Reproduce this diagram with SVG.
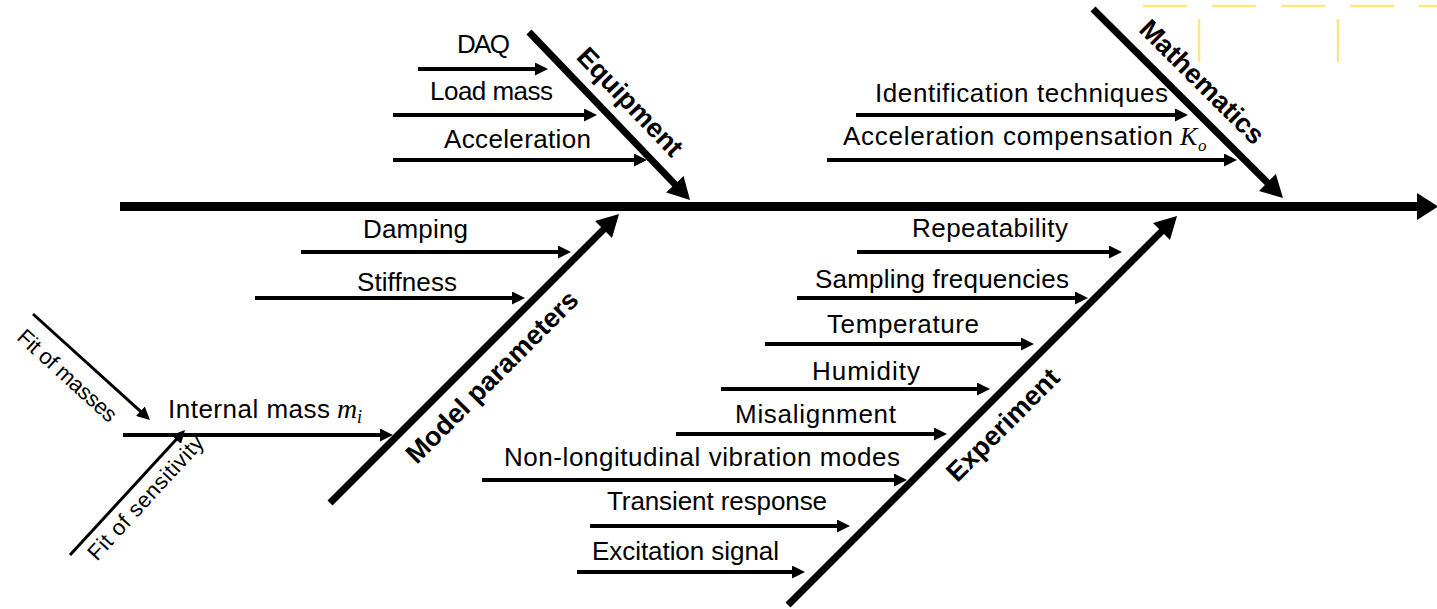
<svg xmlns="http://www.w3.org/2000/svg" width="1437" height="609" viewBox="0 0 1437 609">
<style>
.t{font-family:"Liberation Sans",Arial,sans-serif;font-size:26px;fill:#000}
.b{font-family:"Liberation Sans",Arial,sans-serif;font-size:27px;font-weight:bold;fill:#000}
.f{font-family:"Liberation Sans",Arial,sans-serif;font-size:22px;fill:#000}
.m{font-family:"Liberation Serif","Times New Roman",serif;font-style:italic;fill:#000}
.a{stroke:#000;stroke-width:4;fill:none;marker-end:url(#sa)}
.a3{stroke:#000;stroke-width:3;fill:none;marker-end:url(#sa)}
.br{stroke:#000;stroke-width:7;fill:none;marker-end:url(#ba)}
.y{stroke:#FFE680;stroke-width:2.5;fill:none}
</style>
<defs>
<marker id="sa" markerUnits="userSpaceOnUse" markerWidth="14" markerHeight="13" refX="1" refY="6.5" orient="auto" viewBox="0 0 14 13"><path d="M0,0 L13,6.5 L0,13 z" fill="#000"/></marker>
<marker id="ba" markerUnits="userSpaceOnUse" markerWidth="24" markerHeight="24" refX="2" refY="12" orient="auto" viewBox="0 0 24 24"><path d="M0,0 L22,12 L0,24 z" fill="#000"/></marker>
</defs>
<rect width="1437" height="609" fill="#fff"/>
<g id="decor">
<line class="y" x1="1143" y1="6" x2="1437" y2="6" stroke-dasharray="44 25"/>
<line class="y" x1="1199" y1="19" x2="1199" y2="62"/>
<line class="y" x1="1338" y1="19" x2="1338" y2="62"/>
</g>
<g id="connectors">
<line x1="120" y1="206.5" x2="1420" y2="206.5" stroke="#000" stroke-width="9"/>
<polygon points="1417,193 1438,206.5 1417,220" fill="#000"/>
<line class="br" x1="529" y1="32" x2="676.2" y2="185.6"/>
<line class="br" x1="1093" y1="9" x2="1268.8" y2="183.9"/>
<line class="br" x1="330" y1="503" x2="604.9" y2="228.1"/>
<line class="br" x1="788" y1="605" x2="1162.9" y2="230.1"/>
<line class="a" x1="418" y1="69" x2="536" y2="69"/>
<line class="a" x1="393" y1="115" x2="585" y2="115"/>
<line class="a" x1="393" y1="160" x2="635" y2="160"/>
<line class="a" x1="856" y1="115" x2="1176" y2="115"/>
<line class="a" x1="827" y1="160" x2="1225" y2="160"/>
<line class="a" x1="301" y1="252" x2="559" y2="252"/>
<line class="a" x1="255" y1="298" x2="513" y2="298"/>
<line class="a" x1="123" y1="435" x2="381" y2="435"/>
<line class="a3" x1="33" y1="314" x2="141.1" y2="411.9"/>
<line class="a3" x1="70" y1="555" x2="176.9" y2="438.8"/>
<line class="a" x1="857" y1="252" x2="1110" y2="252"/>
<line class="a" x1="797" y1="298" x2="1076" y2="298"/>
<line class="a" x1="765" y1="344" x2="1022" y2="344"/>
<line class="a" x1="721" y1="389" x2="978" y2="389"/>
<line class="a" x1="676" y1="434" x2="935" y2="434"/>
<line class="a" x1="482" y1="480" x2="895" y2="480"/>
<line class="a" x1="590" y1="526" x2="838" y2="526"/>
<line class="a" x1="577" y1="572" x2="793" y2="572"/>
</g>
<g id="equipment"><text class="b" transform="translate(630,102) rotate(46.2)" x="0" y="9" text-anchor="middle">Equipment</text></g>
<g id="mathematics"><text class="b" transform="translate(1202,82) rotate(44.8)" x="0" y="9" text-anchor="middle">Mathematics</text></g>
<g id="model-parameters"><text class="b" transform="translate(492,377) rotate(-45)" x="0" y="9" text-anchor="middle">Model parameters</text></g>
<g id="experiment"><text class="b" transform="translate(1003,425) rotate(-45)" x="0" y="9" text-anchor="middle">Experiment</text></g>
<g id="daq"><text class="t" x="457" y="53" textLength="53">DAQ</text></g>
<g id="load-mass"><text class="t" x="430" y="100" textLength="123">Load mass</text></g>
<g id="acceleration"><text class="t" x="444" y="148" textLength="147">Acceleration</text></g>
<g id="identification"><text class="t" x="875" y="102" textLength="293">Identification techniques</text></g>
<g id="acc-comp"><text class="t" x="843" y="145" textLength="330">Acceleration compensation</text><text class="m" x="1180" y="145" font-size="26">K</text><text class="m" x="1198" y="151" font-size="17">o</text></g>
<g id="damping"><text class="t" x="363" y="238" textLength="105">Damping</text></g>
<g id="stiffness"><text class="t" x="357" y="291" textLength="100">Stiffness</text></g>
<g id="internal-mass"><text class="t" x="168" y="418" textLength="162">Internal mass</text><text class="m" x="337" y="418" font-size="28">m</text><text class="m" x="357" y="423" font-size="18">i</text></g>
<g id="fit-masses"><text class="f" transform="translate(67,376) rotate(42.2)" x="-63" y="7" textLength="126">Fit of masses</text></g>
<g id="fit-sensitivity"><text class="f" transform="translate(146,498) rotate(-47.4)" x="-80" y="7" textLength="160">Fit of sensitivity</text></g>
<g id="repeatability"><text class="t" x="912" y="237" textLength="156">Repeatability</text></g>
<g id="sampling"><text class="t" x="815" y="288" textLength="254">Sampling frequencies</text></g>
<g id="temperature"><text class="t" x="827" y="333" textLength="152">Temperature</text></g>
<g id="humidity"><text class="t" x="812" y="380" textLength="108">Humidity</text></g>
<g id="misalignment"><text class="t" x="735" y="423" textLength="161">Misalignment</text></g>
<g id="non-longitudinal"><text class="t" x="504" y="466" textLength="396">Non-longitudinal vibration modes</text></g>
<g id="transient"><text class="t" x="607" y="510" textLength="220">Transient response</text></g>
<g id="excitation"><text class="t" x="592" y="560" textLength="187">Excitation signal</text></g>
</svg>
